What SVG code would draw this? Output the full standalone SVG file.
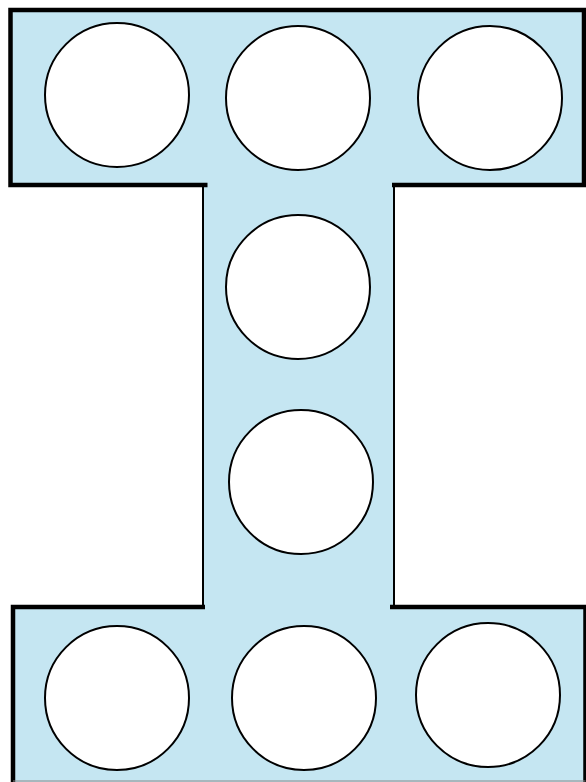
<svg xmlns="http://www.w3.org/2000/svg" width="586" height="782" viewBox="0 0 586 782">
<style>
.fill{fill:#c5e6f2;stroke:none}
.thick{fill:none;stroke:#000;stroke-width:4.5;stroke-linejoin:miter}
.thin{fill:none;stroke:#000;stroke-width:2}
.hole{fill:#fff;stroke:#000;stroke-width:2}
</style>
<g id="beam">
<path class="fill" d="M10,10 H584 V185 H394 V607 H585.5 V782 H13 V607 H203 V185 H10 Z"/>
<path class="thick" d="M207.5,185 H10.5 V10 H584 V185 H392"/>
<path class="thin" d="M203,185 V607 M394,185 V607"/>
<path class="thick" d="M205,607 H13 V783 M390,607 H585.5 V783"/>
<path d="M13,781 H585.5" stroke="#888" stroke-width="1" fill="none"/>
</g>
<g id="holes">
<circle id="h1" class="hole" cx="117" cy="95" r="72"/>
<circle id="h2" class="hole" cx="298" cy="98" r="72"/>
<circle id="h3" class="hole" cx="490" cy="98" r="72"/>
<circle id="h4" class="hole" cx="298" cy="287" r="72"/>
<circle id="h5" class="hole" cx="301" cy="482" r="72"/>
<circle id="h6" class="hole" cx="117" cy="698" r="72"/>
<circle id="h7" class="hole" cx="304" cy="698" r="72"/>
<circle id="h8" class="hole" cx="488" cy="695" r="72"/>
</g>
<g id="connectors"/>
</svg>
